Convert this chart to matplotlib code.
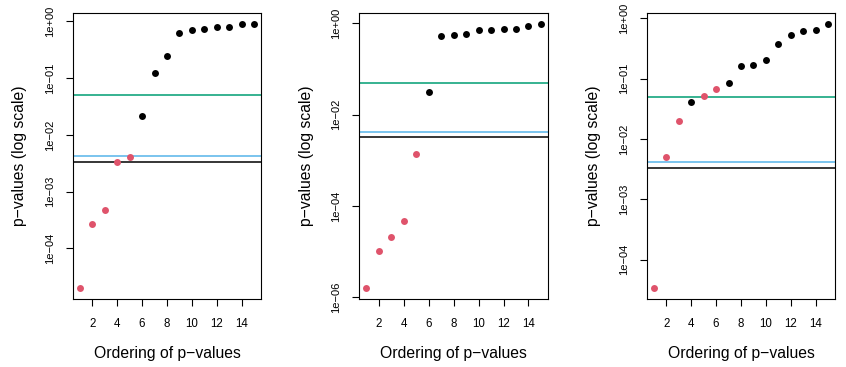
import numpy as np
import matplotlib
matplotlib.use("Agg")
import matplotlib.pyplot as plt

plt.rcParams["font.family"] = ["Liberation Sans", "DejaVu Sans"]

# ordered p-values for the three panels
order = np.arange(1, 16)
p_left = [2.0e-5, 2.65e-4, 4.8e-4, 3.4e-3, 4.1e-3, 0.0216, 0.126, 0.251,
          0.614, 0.703, 0.743, 0.784, 0.805, 0.897, 0.91]
p_mid = [1.6e-6, 1.03e-5, 2.08e-5, 4.75e-5, 1.38e-3, 0.0316, 0.519, 0.546,
         0.593, 0.702, 0.714, 0.738, 0.751, 0.874, 0.98]
p_right = [3.4e-5, 5.06e-3, 0.02, 0.0408, 0.0507, 0.068, 0.0855, 0.162,
           0.168, 0.206, 0.37, 0.522, 0.601, 0.64, 0.805]
# which points are rejected (drawn red)
rej_left = [1, 1, 1, 1, 1, 0, 0, 0, 0, 0, 0, 0, 0, 0, 0]
rej_mid = [1, 1, 1, 1, 1, 0, 0, 0, 0, 0, 0, 0, 0, 0, 0]
rej_right = [1, 1, 1, 0, 1, 1, 0, 0, 0, 0, 0, 0, 0, 0, 0]

# threshold lines
alpha = 0.05
blue_cut = 0.0042
bonf_cut = 0.05 / 15

yticks_left = [1e0, 1e-1, 1e-2, 1e-3, 1e-4]
ylabels_left = ["1e+00", "1e\u221201", "1e\u221202", "1e\u221203", "1e\u221204"]
yticks_mid = [1e0, 1e-2, 1e-4, 1e-6]
ylabels_mid = ["1e+00", "1e\u221202", "1e\u221204", "1e\u221206"]
xticks = [2, 4, 6, 8, 10, 12, 14]

panels = [
    (p_left, rej_left, yticks_left, ylabels_left),
    (p_mid, rej_mid, yticks_mid, ylabels_mid),
    (p_right, rej_right, yticks_left, ylabels_left),
]
lefts = [0.0859, 0.4247, 0.7644]

fig = plt.figure(figsize=(8.46, 3.67), dpi=100)

for left, (pv, rej, yt, yl) in zip(lefts, panels):
    ax = fig.add_axes([left, 0.186, 0.223, 0.778])
    pv = np.array(pv)
    rej = np.array(rej, dtype=bool)
    ax.set_yscale("log")
    ax.axhline(alpha, color="#009E73", lw=1.1)
    ax.axhline(blue_cut, color="#56B4E9", lw=1.1)
    ax.axhline(bonf_cut, color="black", lw=1.1)
    ax.plot(order[~rej], pv[~rej], "o", color="black", ms=5, mew=0)
    ax.plot(order[rej], pv[rej], "o", color="#DF536B", ms=5, mew=0)

    # R-style 4% padding
    lo, hi = np.log10(pv.min()), np.log10(pv.max())
    pad = 0.04 * (hi - lo)
    ax.set_ylim(10 ** (lo - pad), 10 ** (hi + pad))
    ax.set_xlim(1 - 0.56, 15 + 0.56)

    ax.set_xticks(xticks)
    ax.set_xticklabels([str(t) for t in xticks], fontsize=8.3)
    ax.set_yticks(yt)
    ax.set_yticklabels(yl, fontsize=8, rotation=90, va="center")
    ax.yaxis.set_minor_locator(matplotlib.ticker.NullLocator())
    ax.tick_params(axis="x", length=5, width=0.8, pad=9)
    ax.tick_params(axis="y", length=5, width=0.8, pad=8)
    for s in ax.spines.values():
        s.set_linewidth(0.8)

    ax.text(0.5, -0.191, "Ordering of p\u2212values", transform=ax.transAxes,
            ha="center", va="center", fontsize=11.3)
    ax.text(-0.28, 0.5, "p\u2212values (log scale)", transform=ax.transAxes,
            ha="center", va="center", rotation=90, fontsize=11.3)

fig.savefig("out.png", dpi=100)
